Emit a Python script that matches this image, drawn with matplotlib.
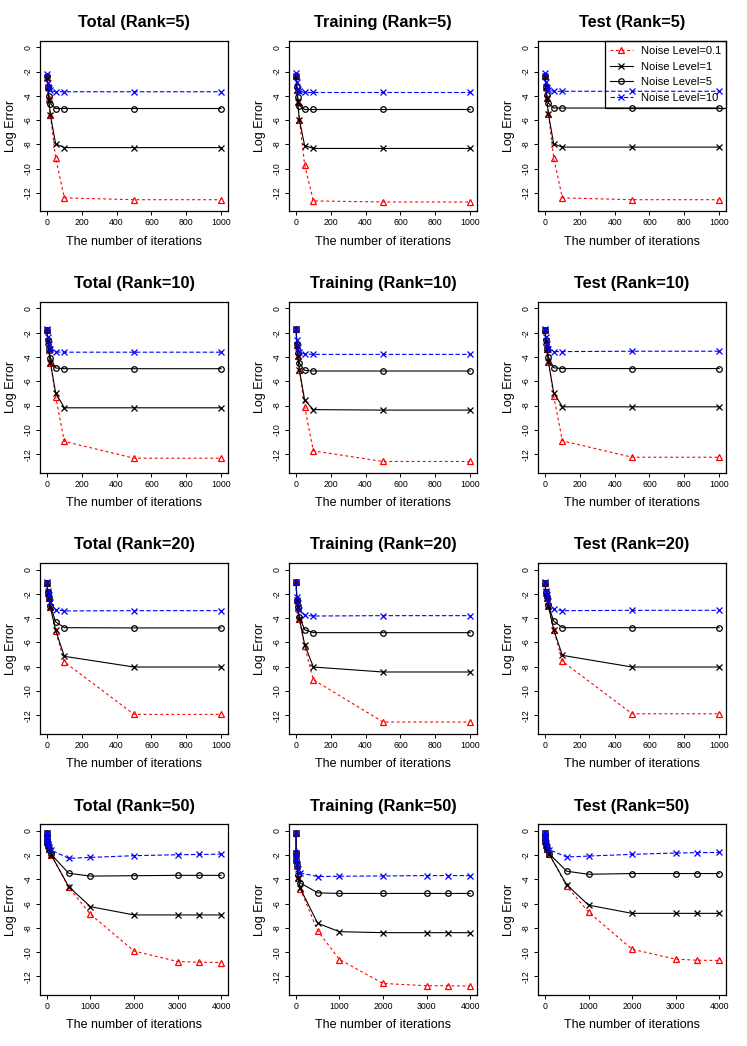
import numpy as np
import matplotlib.pyplot as plt

plt.rcParams['font.family'] = ['Liberation Sans', 'DejaVu Sans']
plt.rcParams['lines.scale_dashes'] = False
plt.rcParams['axes.unicode_minus'] = False

# iteration counts
iters = [1, 5, 10, 20, 50, 100, 500, 1000]
iters_r50 = [1, 5, 10, 20, 50, 100, 500, 1000, 2000, 3000, 3500, 4000]

noise_labels = ["Noise Level=0.1", "Noise Level=1", "Noise Level=5", "Noise Level=10"]
set_names = ["Total", "Training", "Test"]
ranks = [5, 10, 20, 50]

# log errors, order of series: noise 0.1, 1, 5, 10
total_r5 = [
    [-2.45, -3.3, -4.2, -5.6, -9.1, -12.4, -12.55, -12.55],
    [-2.5, -3.3, -4.3, -5.6, -7.95, -8.26, -8.26, -8.26],
    [-2.4, -3.3, -4.0, -4.65, -5.04, -5.04, -5.04, -5.04],
    [-2.2, -2.92, -3.35, -3.55, -3.66, -3.66, -3.66, -3.66],
]
training_r5 = [
    [-2.4, -3.5, -4.5, -6.0, -9.7, -12.65, -12.74, -12.74],
    [-2.4, -3.5, -4.5, -6.0, -8.1, -8.33, -8.33, -8.33],
    [-2.4, -3.3, -4.1, -4.8, -5.12, -5.12, -5.12, -5.12],
    [-2.14, -2.88, -3.42, -3.6, -3.72, -3.72, -3.72, -3.72],
]
test_r5 = [
    [-2.4, -3.3, -4.2, -5.5, -9.1, -12.4, -12.55, -12.55],
    [-2.4, -3.3, -4.2, -5.5, -7.95, -8.22, -8.22, -8.22],
    [-2.4, -3.3, -3.95, -4.6, -5.0, -5.0, -5.0, -5.0],
    [-2.15, -2.85, -3.35, -3.5, -3.62, -3.62, -3.62, -3.62],
]

total_r10 = [
    [-1.75, -2.75, -3.4, -4.45, -7.25, -10.95, -12.33, -12.33],
    [-1.75, -2.7, -3.35, -4.45, -6.95, -8.18, -8.18, -8.18],
    [-1.75, -2.6, -3.3, -4.05, -4.9, -4.96, -4.96, -4.96],
    [-1.7, -2.35, -2.9, -3.35, -3.58, -3.6, -3.6, -3.6],
]
training_r10 = [
    [-1.7, -3.0, -3.9, -5.1, -8.1, -11.73, -12.6, -12.6],
    [-1.7, -3.0, -3.9, -5.1, -7.55, -8.33, -8.37, -8.37],
    [-1.7, -2.9, -3.7, -4.5, -5.1, -5.15, -5.15, -5.15],
    [-1.65, -2.6, -3.2, -3.55, -3.75, -3.78, -3.78, -3.78],
]
test_r10 = [
    [-1.75, -2.8, -3.3, -4.4, -7.2, -10.9, -12.25, -12.25],
    [-1.75, -2.7, -3.3, -4.4, -6.93, -8.1, -8.1, -8.1],
    [-1.75, -2.6, -3.3, -4.0, -4.88, -4.95, -4.95, -4.95],
    [-1.7, -2.35, -2.9, -3.3, -3.55, -3.55, -3.52, -3.52],
]

total_r20 = [
    [-1.1, -1.9, -2.35, -3.1, -5.05, -7.6, -11.92, -11.92],
    [-1.1, -1.9, -2.35, -3.1, -5.0, -7.14, -8.02, -8.02],
    [-1.1, -1.85, -2.3, -3.0, -4.3, -4.78, -4.8, -4.8],
    [-1.05, -1.75, -2.1, -2.66, -3.3, -3.4, -3.38, -3.38],
]
training_r20 = [
    [-1.05, -2.5, -3.15, -4.1, -6.3, -9.07, -12.55, -12.55],
    [-1.05, -2.5, -3.1, -4.05, -6.18, -8.02, -8.43, -8.43],
    [-1.05, -2.5, -3.1, -3.9, -4.95, -5.19, -5.19, -5.19],
    [-1.0, -2.25, -2.75, -3.35, -3.76, -3.82, -3.79, -3.79],
]
test_r20 = [
    [-1.1, -1.9, -2.3, -3.0, -4.95, -7.55, -11.87, -11.87],
    [-1.1, -1.85, -2.3, -3.0, -4.95, -7.06, -8.02, -8.02],
    [-1.1, -1.85, -2.25, -2.95, -4.23, -4.78, -4.78, -4.78],
    [-1.05, -1.75, -2.1, -2.6, -3.27, -3.38, -3.35, -3.35],
]

total_r50 = [
    [-0.2, -0.6, -0.9, -1.2, -1.5, -2.0, -4.66, -6.88, -9.9, -10.77, -10.82, -10.85],
    [-0.2, -0.6, -0.9, -1.2, -1.5, -2.0, -4.6, -6.25, -6.93, -6.93, -6.93, -6.93],
    [-0.2, -0.6, -0.9, -1.2, -1.5, -1.95, -3.5, -3.73, -3.7, -3.67, -3.67, -3.67],
    [-0.15, -0.5, -0.8, -1.05, -1.3, -1.6, -2.27, -2.19, -2.05, -1.97, -1.95, -1.92],
]
training_r50 = [
    [-0.2, -1.7, -2.4, -2.87, -3.88, -4.78, -8.25, -10.6, -12.57, -12.76, -12.76, -12.79],
    [-0.2, -1.8, -2.35, -2.85, -3.85, -4.75, -7.62, -8.31, -8.39, -8.39, -8.39, -8.39],
    [-0.2, -1.8, -2.3, -2.8, -3.6, -4.29, -5.11, -5.16, -5.16, -5.16, -5.16, -5.16],
    [-0.2, -1.8, -2.2, -2.7, -3.14, -3.47, -3.77, -3.74, -3.72, -3.69, -3.69, -3.69],
]
test_r50 = [
    [-0.2, -0.55, -0.85, -1.2, -1.5, -1.95, -4.56, -6.69, -9.75, -10.57, -10.66, -10.68],
    [-0.2, -0.55, -0.85, -1.2, -1.5, -1.95, -4.45, -6.12, -6.8, -6.8, -6.8, -6.8],
    [-0.2, -0.55, -0.85, -1.2, -1.5, -1.9, -3.33, -3.58, -3.52, -3.52, -3.52, -3.52],
    [-0.15, -0.5, -0.75, -1.0, -1.3, -1.56, -2.16, -2.08, -1.94, -1.83, -1.8, -1.78],
]

panel_data = [
    [total_r5, training_r5, test_r5],
    [total_r10, training_r10, test_r10],
    [total_r20, training_r20, test_r20],
    [total_r50, training_r50, test_r50],
]

colors = ['#ff0000', 'black', 'black', '#0000ff']
markers = ['^', 'x', 'o', 'x']
msizes = [5, 4.5, 4, 4.5]
lstyles = [(0, (2.0, 2.0)), '-', '-', (0, (3.2, 1.6))]

fig, axes = plt.subplots(4, 3, figsize=(7.47, 10.46), dpi=100)
fig.subplots_adjust(left=0.0535, right=0.972, top=0.9608, bottom=0.0488,
                    wspace=0.324, hspace=0.532)

for i, rank in enumerate(ranks):
    x = iters_r50 if rank == 50 else iters
    xmax = x[-1]
    for j, name in enumerate(set_names):
        ax = axes[i, j]
        for k in range(4):
            ax.plot(x, panel_data[i][j][k], color=colors[k], marker=markers[k],
                    ms=msizes[k], mfc='none', mew=0.9, lw=0.8, ls=lstyles[k],
                    label=noise_labels[k])
        ax.set_xlim(-0.04 * xmax, 1.04 * xmax)
        ax.set_ylim(-13.52, 0.52)
        ax.set_yticks(np.arange(0, -13, -2))
        if rank == 50:
            ax.set_xticks(np.arange(0, 4001, 1000))
        else:
            ax.set_xticks(np.arange(0, 1001, 200))
        ax.tick_params(direction='out', length=3, width=0.7, labelsize=6.3, pad=2)
        for lab in ax.get_yticklabels():
            lab.set_rotation(90)
            lab.set_va('center')
        for sp in ax.spines.values():
            sp.set_linewidth(0.9)
        ax.set_title(f"{name} (Rank={rank})", fontsize=11.8, fontweight='bold', pad=10)
        ax.set_xlabel("The number of iterations", fontsize=9, labelpad=6)
        ax.set_ylabel("Log Error", fontsize=9, labelpad=5)

leg = axes[0, 2].legend(loc='upper right', borderaxespad=0, fontsize=8,
                        handlelength=2.1, handletextpad=0.7, labelspacing=0.5,
                        borderpad=0.45, fancybox=False, edgecolor='black',
                        framealpha=1)
leg.get_frame().set_facecolor('none')
leg.get_frame().set_linewidth(0.9)

fig.savefig('out.png', dpi=100)
